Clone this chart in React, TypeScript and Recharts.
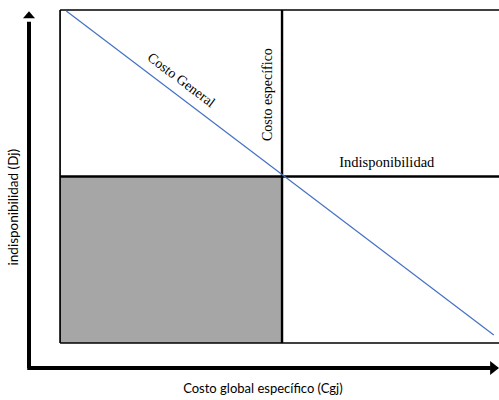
import React from "react";
import { ComposedChart, Line, XAxis, YAxis, ReferenceLine, ReferenceArea, ReferenceDot } from "recharts";

// diagram in 0..100 units, the margin strip round the box is the axis arrows
const costoGeneral = [
  { x: 1.4, y: 99.7 },
  { x: 97.7, y: 2.4 },
];
const umbralCosto = 50;
const umbralIndisp = 50;
const xLabel = "Costo global específico (Cgj)";
const yLabel = "indisponibilidad (Dj)";
const notas = ["Costo General", "Costo específico", "Indisponibilidad"];

const serif = "'Liberation Serif', 'Times New Roman', serif";
const sans = "Lato, 'Open Sans', sans-serif";

const texto = (value: string, opts: { angle?: number; size: number; family: string; anchor?: string; baseline?: string }) =>
  (p: any) => (
    <text
      x={p.cx}
      y={p.cy}
      transform={opts.angle ? `rotate(${opts.angle} ${p.cx} ${p.cy})` : undefined}
      textAnchor={opts.anchor || "middle"}
      dominantBaseline={opts.baseline || "central"}
      fontFamily={opts.family}
      fontSize={opts.size}
      fill="#000"
    >
      {value}
    </text>
  );

const flechaArriba = (p: any) => (
  <path d={`M${p.cx},${p.cy} L${p.cx + 6},${p.cy + 7} L${p.cx - 6},${p.cy + 7} Z`} fill="#000" />
);
const flechaDerecha = (p: any) => (
  <path d={`M${p.cx},${p.cy} L${p.cx - 9},${p.cy - 7} L${p.cx - 9},${p.cy + 7} Z`} fill="#000" />
);

export default function App() {
  const lineBox = { stroke: "#000", strokeWidth: 1.7 };
  const lineDiv = { stroke: "#000", strokeWidth: 2.4 };
  return (
    <div style={{ position: "absolute", left: 0, top: 0, width: 499, height: 400, background: "#fff" }}>
      <ComposedChart width={499} height={400} margin={{ top: 10, right: -5, left: 29, bottom: 32 }}>
        <XAxis type="number" dataKey="x" domain={[-7, 100]} hide allowDataOverflow />
        <YAxis type="number" dataKey="y" domain={[-7.5, 100]} hide allowDataOverflow />

        <ReferenceArea x1={0} x2={umbralCosto} y1={0} y2={umbralIndisp} fill="#a6a6a6" fillOpacity={1} stroke="none" />

        <ReferenceLine segment={[{ x: 0, y: 100 }, { x: 100, y: 100 }]} {...lineBox} />
        <ReferenceLine segment={[{ x: 0, y: 0 }, { x: 0, y: 100 }]} {...lineBox} />
        <ReferenceLine segment={[{ x: 0, y: 0 }, { x: 100, y: 0 }]} {...lineBox} />
        <ReferenceLine segment={[{ x: 0, y: umbralIndisp }, { x: 100, y: umbralIndisp }]} {...lineDiv} />
        <ReferenceLine segment={[{ x: umbralCosto, y: 0 }, { x: umbralCosto, y: 100 }]} {...lineDiv} />

        {/* axis arrows */}
        <ReferenceLine segment={[{ x: -7, y: -7.5 }, { x: -7, y: 96.5 }]} stroke="#000" strokeWidth={4} ifOverflow="visible" />
        <ReferenceLine segment={[{ x: -7.4, y: -7.5 }, { x: 97, y: -7.5 }]} stroke="#000" strokeWidth={4} ifOverflow="visible" />
        <ReferenceDot x={-7} y={99.6} ifOverflow="visible" shape={flechaArriba} />
        <ReferenceDot x={98.9} y={-7.5} ifOverflow="visible" shape={flechaDerecha} />

        <Line data={costoGeneral} dataKey="y" stroke="#4472c4" strokeWidth={1.2} dot={false} isAnimationActive={false} />

        <ReferenceDot x={27.3} y={79} ifOverflow="visible" shape={texto(notas[0], { angle: 37, size: 14, family: serif })} />
        <ReferenceDot x={46.8} y={74.6} ifOverflow="visible" shape={texto(notas[1], { angle: -90, size: 14, family: serif })} />
        <ReferenceDot x={73.6} y={54.4} ifOverflow="visible" shape={texto(notas[2], { size: 14.5, family: serif })} />
        <ReferenceDot x={45.7} y={-15} ifOverflow="visible" shape={texto(xLabel, { size: 13, family: sans, baseline: "alphabetic" })} />
        <ReferenceDot x={-10.6} y={40.8} ifOverflow="visible" shape={texto(yLabel, { angle: -90, size: 13.5, family: sans })} />
      </ComposedChart>
    </div>
  );
}
